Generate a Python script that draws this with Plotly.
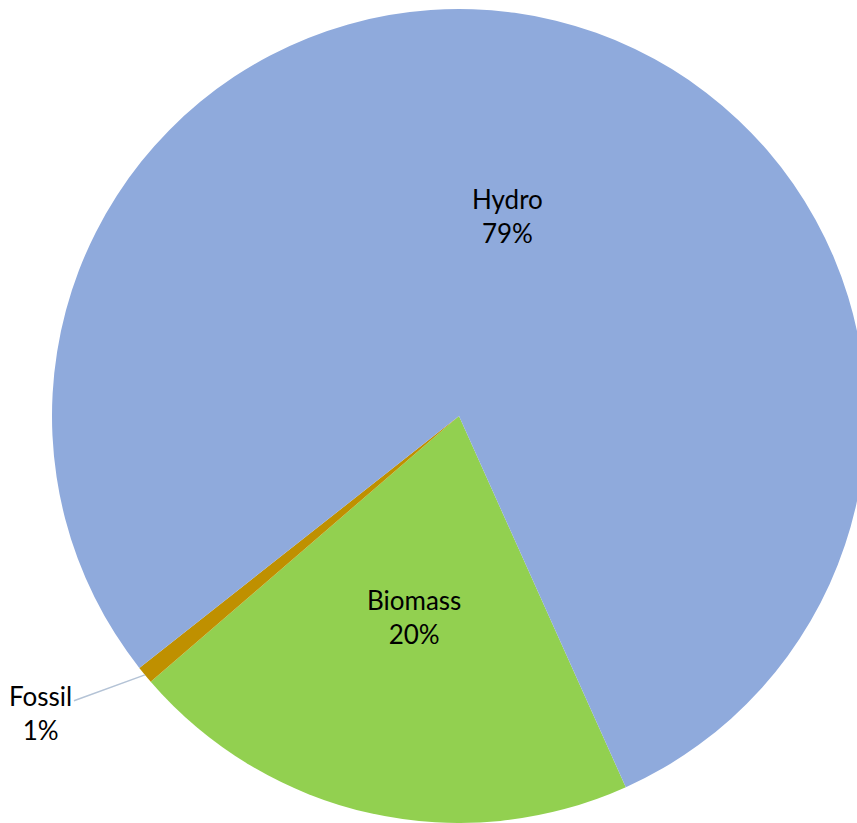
import numpy as np
import plotly.graph_objects as go

labels = ["Biomass", "Fossil", "Hydro"]
values = [20.4, 0.7, 78.9]
colors = ["#92D050", "#BF9000", "#8FAADC"]
start_angle = 155.8  # degrees clockwise from 12 o'clock, start of first slice

W, H = 866, 823
dom_x = [52 / W, 1.0]
dom_y = [0.0, (H - 9) / H]
FONT = "Lato, 'Open Sans', sans-serif"

fig = go.Figure(go.Pie(
    labels=labels,
    values=values,
    sort=False,
    direction="clockwise",
    rotation=start_angle,
    marker=dict(colors=colors, line=dict(width=0)),
    textinfo="none",
    domain=dict(x=dom_x, y=dom_y),
    showlegend=False,
    hoverinfo="label+percent",
))

# pie geometry in pixels (derived from the domain)
total = sum(values)
cx = (dom_x[0] + dom_x[1]) / 2 * W
cy = H - (dom_y[0] + dom_y[1]) / 2 * H
R = min((dom_x[1] - dom_x[0]) * W, (dom_y[1] - dom_y[0]) * H) / 2

cum = start_angle
for lab, v in zip(labels, values):
    mid = np.deg2rad(cum + 360 * v / total / 2)
    cum += 360 * v / total
    pct = round(100 * v / total)
    text = f"{lab}<br>{pct}%"
    if v / total > 0.05:
        r = 0.505 * R
        x = cx + r * np.sin(mid)
        y = cy - r * np.cos(mid)
        fig.add_annotation(
            x=x / W, y=1 - y / H, xref="paper", yref="paper",
            xanchor="center", yanchor="middle",
            text=text, showarrow=False,
            font=dict(family=FONT, size=26, color="#000000"),
        )
    else:
        x = cx + R * np.sin(mid)
        y = cy - R * np.cos(mid)
        fig.add_annotation(
            x=x / W, y=1 - y / H, xref="paper", yref="paper",
            text=text,
            showarrow=True, arrowhead=0, arrowwidth=1.5, arrowcolor="#B4C3D6",
            ax=-104, ay=38, standoff=0,
            font=dict(family=FONT, size=26, color="#000000"),
        )

fig.update_layout(
    width=W, height=H,
    margin=dict(l=0, r=0, t=0, b=0),
    paper_bgcolor="white", plot_bgcolor="white",
)

fig.write_html(
    "out.html",
    config={"displayModeBar": False},
    post_script="document.body.style.margin='0';document.body.style.overflow='hidden';",
)
